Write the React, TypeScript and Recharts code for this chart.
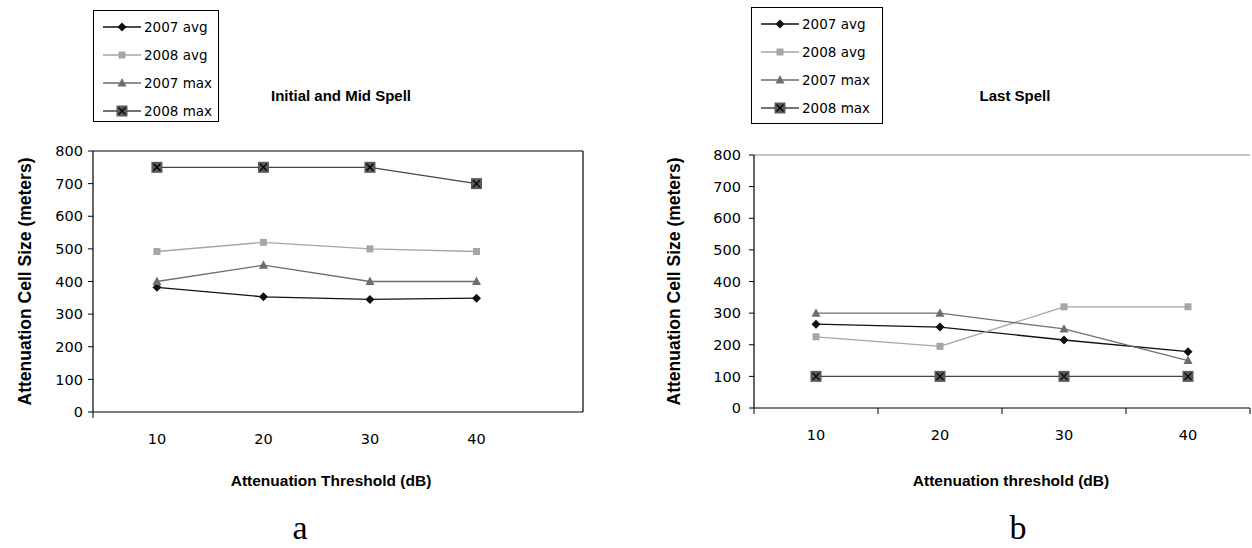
import React from "react"
import { LineChart, Line, XAxis, YAxis, ReferenceLine } from "recharts"

const thresholds = [10, 20, 30, 40]
const yTicks = [0, 100, 200, 300, 400, 500, 600, 700, 800]

const initAvg2007 = [382, 353, 345, 349]
const initAvg2008 = [492, 520, 500, 492]
const initMax2007 = [400, 450, 400, 400]
const initMax2008 = [750, 750, 750, 700]

const lastAvg2007 = [265, 256, 215, 178]
const lastAvg2008 = [225, 195, 320, 320]
const lastMax2007 = [300, 300, 250, 150]
const lastMax2008 = [100, 100, 100, 100]

const seriesNames = ["2007 avg", "2008 avg", "2007 max", "2008 max"]
const seriesKeys = ["avg2007", "avg2008", "max2007", "max2008"]
const seriesColors = ["#111111", "#a6a6a6", "#6e6e6e", "#454545"]

const TICK_FONT = "'DejaVu Sans', sans-serif"
const LABEL_FONT = "'Liberation Sans', Arial, sans-serif"

const X_TICK_SIZE = 6
const X_TICK_MARGIN = 16

const buildRows = (a7: number[], a8: number[], m7: number[], m8: number[]) =>
  thresholds.map((t, i) => ({ t, avg2007: a7[i], avg2008: a8[i], max2007: m7[i], max2008: m8[i] }))

const initRows = buildRows(initAvg2007, initAvg2008, initMax2007, initMax2008)
const lastRows = buildRows(lastAvg2007, lastAvg2008, lastMax2007, lastMax2008)

// marker shapes, one per series
function Marker({ kind, cx, cy }: { kind: number; cx: number; cy: number }) {
  if (kind === 0) {
    const r = 4.5
    return <polygon points={`${cx},${cy - r} ${cx + r},${cy} ${cx},${cy + r} ${cx - r},${cy}`} fill="#111" />
  }
  if (kind === 1) {
    return <rect x={cx - 3.5} y={cy - 3.5} width={7} height={7} fill="#a6a6a6" />
  }
  if (kind === 2) {
    return <polygon points={`${cx},${cy - 5} ${cx + 4.5},${cy + 3.5} ${cx - 4.5},${cy + 3.5}`} fill="#6e6e6e" />
  }
  return (
    <g>
      <rect x={cx - 5.5} y={cy - 5.5} width={11} height={11} fill="#5a5a5a" />
      <line x1={cx - 3.5} y1={cy - 3.5} x2={cx + 3.5} y2={cy + 3.5} stroke="#000" strokeWidth={1.3} />
      <line x1={cx + 3.5} y1={cy - 3.5} x2={cx - 3.5} y2={cy + 3.5} stroke="#000" strokeWidth={1.3} />
    </g>
  )
}

const dotFor = (kind: number) => (props: any) => (
  <Marker key={`${kind}-${props.index}`} kind={kind} cx={props.cx} cy={props.cy} />
)

// labelled ticks get text, the rest only a short tick mark
const xTickFor = (labels: number[]) => (props: any) => {
  const { x, y, payload } = props
  const axisY = y - X_TICK_SIZE - X_TICK_MARGIN
  if (!labels.includes(payload.value)) {
    return <line x1={x} x2={x} y1={axisY} y2={axisY + X_TICK_SIZE} stroke="#000" />
  }
  return (
    <text x={x} y={y} dy="0.71em" textAnchor="middle" fontFamily={TICK_FONT} fontSize={14.5} fill="#000">
      {payload.value}
    </text>
  )
}

function LegendBox({ left, top, width, height }: { left: number; top: number; width: number; height: number }) {
  return (
    <div
      style={{
        position: "absolute",
        left,
        top,
        width,
        height,
        border: "1px solid #000",
        boxSizing: "border-box",
        background: "#fff",
      }}
    >
      {seriesNames.map((name, i) => (
        <div key={name} style={{ position: "absolute", left: 9, top: 7 + i * 28, height: 18, display: "flex", alignItems: "center" }}>
          <svg width={38} height={18}>
            <line x1={0} x2={38} y1={9} y2={9} stroke={seriesColors[i]} strokeWidth={1.3} />
            <Marker kind={i} cx={19} cy={9} />
          </svg>
          <span style={{ fontFamily: TICK_FONT, fontSize: 13.5, marginLeft: 3, color: "#000", whiteSpace: "nowrap" }}>{name}</span>
        </div>
      ))}
    </div>
  )
}

function Panel({
  rows,
  left,
  width,
  margin,
  xDomain,
  xTicks,
  xLabel,
  xLabelOffset,
  xLabelDx,
  labelOffset,
  yTickMargin,
  closedFrame,
}: {
  rows: any[]
  left: number
  width: number
  margin: { top: number; right: number; bottom: number; left: number }
  xDomain: [number, number]
  xTicks: number[]
  xLabel: string
  xLabelOffset: number
  xLabelDx: number
  labelOffset: number
  yTickMargin: number
  closedFrame: boolean
}) {
  return (
    <div style={{ position: "absolute", left, top: 0 }}>
      <LineChart width={width} height={548} data={rows} margin={margin}>
        <XAxis
          dataKey="t"
          type="number"
          domain={xDomain}
          ticks={xTicks}
          interval={0}
          height={30}
          tickLine={false}
          tickSize={X_TICK_SIZE}
          tickMargin={X_TICK_MARGIN}
          tick={xTickFor(thresholds)}
          axisLine={{ stroke: "#000", strokeWidth: 1.2 }}
          label={{
            value: xLabel,
            position: "bottom",
            offset: xLabelOffset,
            dx: xLabelDx,
            style: { fontFamily: LABEL_FONT, fontWeight: 700, fontSize: 15.5, fill: "#000" },
          }}
        />
        <YAxis
          type="number"
          domain={[0, 800]}
          ticks={yTicks}
          interval={0}
          width={80}
          tickSize={5}
          tickMargin={yTickMargin}
          tickLine={{ stroke: "#000" }}
          axisLine={{ stroke: "#000", strokeWidth: 1.2 }}
          tick={{ fontFamily: TICK_FONT, fontSize: 14.5, fill: "#000" }}
          label={{
            value: "Attenuation Cell Size (meters)",
            angle: -90,
            position: "insideLeft",
            offset: labelOffset,
            textAnchor: "middle",
            style: { textAnchor: "middle", fontFamily: LABEL_FONT, fontWeight: 700, fontSize: 17.5, fill: "#000" },
          }}
        />
        <ReferenceLine y={800} stroke={closedFrame ? "#000" : "#888"} strokeWidth={1.2} />
        {closedFrame && <ReferenceLine x={xDomain[1]} stroke="#000" strokeWidth={1.2} />}
        {seriesKeys.map((k, i) => (
          <Line
            key={k}
            dataKey={k}
            name={seriesNames[i]}
            stroke={seriesColors[i]}
            strokeWidth={1.3}
            dot={dotFor(i)}
            activeDot={false}
            isAnimationActive={false}
          />
        ))}
      </LineChart>
    </div>
  )
}

const titleStyle: React.CSSProperties = {
  position: "absolute",
  fontFamily: LABEL_FONT,
  fontWeight: 700,
  fontSize: 15,
  color: "#000",
  transform: "translateX(-50%)",
  whiteSpace: "nowrap",
}

const letterStyle: React.CSSProperties = {
  position: "absolute",
  fontFamily: "'Liberation Serif', 'Times New Roman', serif",
  fontSize: 34,
  color: "#000",
  transform: "translateX(-50%)",
}

export default function App() {
  return (
    <div style={{ position: "absolute", left: 0, top: 0, width: 1252, height: 548, background: "#fff", overflow: "hidden" }}>
      <Panel
        rows={initRows}
        left={0}
        width={600}
        margin={{ top: 151, right: 17, bottom: 106, left: 13 }}
        xDomain={[4, 50]}
        xTicks={[4, 10, 20, 30, 40]}
        xLabel="Attenuation Threshold (dB)"
        xLabelOffset={33}
        xLabelDx={-7}
        labelOffset={12}
        yTickMargin={5}
        closedFrame
      />
      <Panel
        rows={lastRows}
        left={626}
        width={626}
        margin={{ top: 155, right: 2, bottom: 110, left: 48 }}
        xDomain={[5, 45]}
        xTicks={[5, 10, 15, 20, 25, 30, 35, 40, 45]}
        xLabel="Attenuation threshold (dB)"
        xLabelOffset={37}
        xLabelDx={9}
        labelOffset={0}
        yTickMargin={8}
        closedFrame={false}
      />
      <div style={{ ...titleStyle, left: 341, top: 87 }}>Initial and Mid Spell</div>
      <div style={{ ...titleStyle, left: 1015, top: 87 }}>Last Spell</div>
      <LegendBox left={93} top={10} width={126} height={112} />
      <LegendBox left={751} top={7} width={132} height={117} />
      <div style={{ ...letterStyle, left: 300, top: 509 }}>a</div>
      <div style={{ ...letterStyle, left: 1018, top: 509 }}>b</div>
    </div>
  )
}
